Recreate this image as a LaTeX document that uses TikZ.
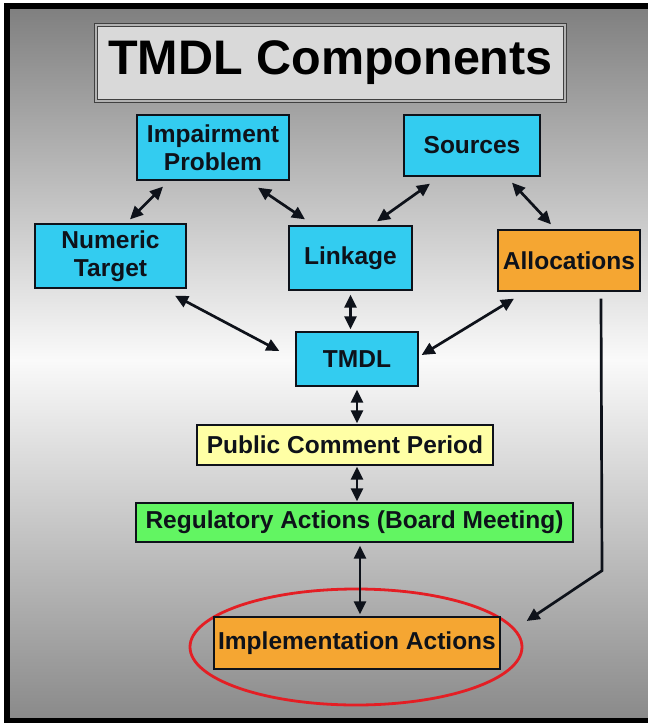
\documentclass[tikz,border=0pt]{standalone}
\usepackage{fontspec}
\setmainfont{Liberation Sans}
\usetikzlibrary{arrows.meta,calc,shapes.geometric}
\definecolor{cyanbox}{RGB}{51,204,240}
\definecolor{orangebox}{RGB}{245,166,50}
\definecolor{yellowbox}{RGB}{255,255,165}
\definecolor{greenbox}{RGB}{98,245,98}
\definecolor{titlefill}{RGB}{217,217,217}
\definecolor{bgtop}{RGB}{128,128,128}
\definecolor{bgmid}{RGB}{250,250,250}
\definecolor{bgbot}{RGB}{138,138,138}
\definecolor{ringred}{RGB}{228,30,36}
\definecolor{inkdark}{RGB}{14,18,26}
\begin{document}
\begin{tikzpicture}[x=1pt,y=-1pt,
  box/.style={draw=inkdark, line width=1.3pt, inner sep=0pt, align=center, text=inkdark,
    font=\bfseries\fontsize{24.5}{28}\selectfont},
  cbox/.style={box, fill=cyanbox},
  obox/.style={box, fill=orangebox},
  ybox/.style={box, fill=yellowbox},
  gbox/.style={box, fill=greenbox},
  biarrow/.style={line width=2.7pt, draw=inkdark, {Triangle[length=13pt,width=12pt]}-{Triangle[length=13pt,width=12pt]}},
  onearrow/.style={line width=2.7pt, draw=inkdark, line join=miter, -{Triangle[length=13pt,width=12pt]}},
]
\useasboundingbox (0,0) rectangle (648,723);
\fill[white] (0,0) rectangle (648,723);
\shade[top color=bgtop, bottom color=bgmid] (10,9) rectangle (648,360);
\shade[top color=bgmid, bottom color=bgbot] (10,359.5) rectangle (648,718);
\fill[black] (4,3) rectangle (10,723);
\fill[black] (4,3) rectangle (648,9);
\fill[black] (4,718) rectangle (648,723);

% title
\node[draw=black!75, double=gray!60, double distance=1.6pt, line width=1.2pt, fill=titlefill,
  minimum width=469, minimum height=76, inner sep=0pt, text=black,
  font=\bfseries\fontsize{48.5}{50}\selectfont] (title) at (330.5,63) {TMDL Components};

% nodes
\node[cbox, minimum width=152, minimum height=65] (imp) at (213,147.5) {Impairment\\Problem};
\node[cbox, minimum width=136, minimum height=61] (src) at (472,145.5) {Sources};
\node[cbox, minimum width=151, minimum height=64] (num) at (110.5,256) {Numeric\\Target};
\node[cbox, minimum width=123, minimum height=64] (link) at (350.5,258) {Linkage};
\node[obox, minimum width=142, minimum height=61] (alloc) at (569,260.5) {Allocations};
\node[cbox, minimum width=122, minimum height=54] (tmdl) at (357,359) {TMDL};
\node[ybox, minimum width=296, minimum height=40] (pub) at (345,445) {Public Comment Period};
\node[gbox, minimum width=437, minimum height=39] (reg) at (354.5,522.5) {Regulatory Actions (Board Meeting)};
\node[draw=ringred, line width=2.8pt, ellipse, minimum width=332, minimum height=116, inner sep=0pt] (ring) at (356,647) {};
\node[obox, minimum width=286, minimum height=52] (impl) at (357,643) {Implementation Actions};

% connectors
\draw[biarrow] ($(imp.south)+(-50,6)$) -- ($(num.north)+(19.5,-4)$);
\draw[biarrow] ($(imp.south)+(45,7)$) -- ($(link.north)+(-45.5,-6)$);
\draw[biarrow] ($(src.south)+(-42,7)$) -- ($(link.north)+(26.5,-4)$);
\draw[biarrow] ($(src.south)+(40,6)$) -- ($(alloc.north)+(-18,-5)$);
\draw[biarrow] ($(num.south)+(64.5,7)$) -- ($(tmdl.west)+(-16,-8)$);
\draw[biarrow] ($(link.south)+(0,4)$) -- ($(tmdl.north)+(-6.5,-2)$);
\draw[biarrow] ($(alloc.south)+(-55,7)$) -- ($(tmdl.east)+(3,-4)$);
\draw[biarrow] ($(tmdl.south)+(0,3)$) -- ($(pub.north)+(12,-1)$);
\draw[biarrow] ($(pub.south)+(12,1)$) -- ($(reg.north)+(2.5,-1)$);
\draw[biarrow] ($(reg.south)+(5.5,3)$) -- ($(impl.north)+(3,-2)$);
\draw[onearrow] ($(alloc.south)+(32,7)$) -- ($(alloc.south)+(33,279)$) -- ($(impl.east)+(26,-22)$);
\end{tikzpicture}
\end{document}
